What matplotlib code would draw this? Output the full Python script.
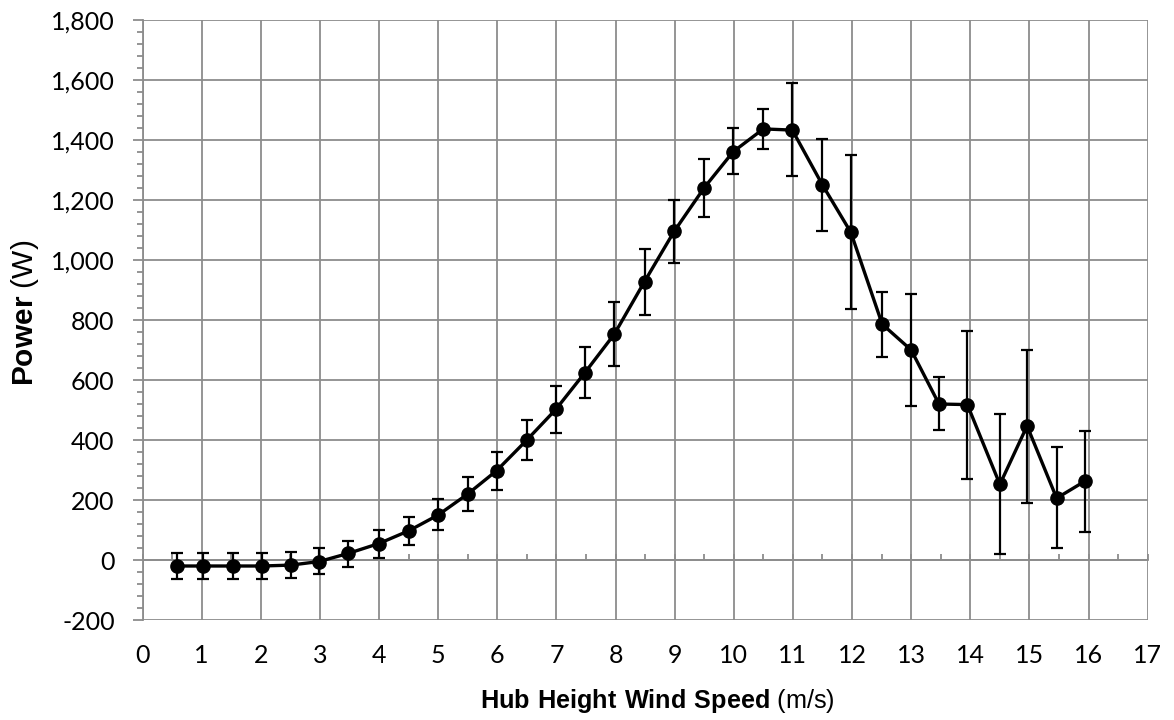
import matplotlib
matplotlib.use('Agg')
import matplotlib.pyplot as plt
from matplotlib.ticker import MultipleLocator, FuncFormatter

# data
wind_speed = [0.58, 1.02, 1.53, 2.02, 2.51, 2.99, 3.48, 4.0, 4.51, 5.0,
              5.5, 5.99, 6.5, 6.99, 7.48, 7.98, 8.49, 8.99, 9.5, 9.99,
              10.5, 10.99, 11.5, 11.98, 12.51, 13.0, 13.47, 13.95, 14.5, 14.96,
              15.46, 15.94]
power = [-20, -20, -20, -20, -17, -5, 22, 55, 98, 150,
         220, 298, 400, 502, 624, 753, 928, 1095, 1241, 1361,
         1437, 1433, 1250, 1092, 786, 700, 520, 518, 252, 447,
         206, 263]
power_upper = [22, 22, 22, 22, 26, 39, 64, 100, 144, 202,
               276, 361, 467, 580, 710, 861, 1038, 1200, 1337, 1439,
               1502, 1589, 1402, 1349, 892, 888, 610, 763, 487, 700,
               376, 430]
power_lower = [-63, -63, -63, -63, -61, -47, -22, 8, 50, 100,
               164, 233, 333, 424, 539, 647, 817, 990, 1142, 1286,
               1370, 1280, 1098, 837, 677, 514, 432, 271, 19, 191,
               39, 92]

GRID = '#8c8c8c'

plt.rcParams['mathtext.fontset'] = 'custom'
plt.rcParams['mathtext.bf'] = 'Liberation Sans:bold'
plt.rcParams['mathtext.rm'] = 'Liberation Sans'

fig = plt.figure(figsize=(11.74, 7.2), dpi=100)
ax = fig.add_axes([142.5 / 1174, 100 / 720, (1147.7 - 142.5) / 1174, 600 / 720])

yerr = [[p - lo for p, lo in zip(power, power_lower)],
        [hi - p for p, hi in zip(power, power_upper)]]
ax.errorbar(wind_speed, power, yerr=yerr, color='black', linewidth=2.4,
            marker='o', markersize=9.5, elinewidth=1.6, capsize=4.5,
            capthick=1.6, zorder=3)

ax.set_xlim(0, 17)
ax.set_ylim(-200, 1800)
ax.xaxis.set_major_locator(MultipleLocator(1))
ax.yaxis.set_major_locator(MultipleLocator(200))
ax.yaxis.set_minor_locator(MultipleLocator(40))
ax.yaxis.set_major_formatter(FuncFormatter(lambda v, pos: f'{v:,.0f}'))

ax.grid(True, which='major', color=GRID, linewidth=1.3, zorder=0)
ax.set_axisbelow(True)
for side in ('top', 'right', 'bottom'):
    ax.spines[side].set_visible(False)
ax.spines['left'].set_color(GRID)
ax.spines['left'].set_linewidth(1.3)

ax.tick_params(axis='x', which='both', length=0, pad=17, labelsize=18)
ax.tick_params(axis='y', which='major', length=7, width=1.3, color=GRID,
               pad=13, labelsize=18)
ax.tick_params(axis='y', which='minor', length=4.5, width=1.3, color=GRID)
for lab in ax.get_xticklabels() + ax.get_yticklabels():
    lab.set_family('Lato')

# horizontal axis line crossing at zero, with half-unit ticks
zero_axis = ax.secondary_xaxis(0.1)
zero_axis.spines['bottom'].set_color(GRID)
zero_axis.spines['bottom'].set_linewidth(1.3)
zero_axis.xaxis.set_major_locator(MultipleLocator(1))
zero_axis.xaxis.set_minor_locator(MultipleLocator(0.5))
zero_axis.tick_params(which='both', direction='in', length=4.5, width=1.3,
                      color=GRID, labelbottom=False)

fig.text(657 / 1174, 1 - 701 / 720,
         r'$\mathbf{Hub\ Height\ Wind\ Speed}$ (m/s)',
         family='Liberation Sans', fontsize=18.2, ha='center', va='center')
fig.text(25 / 1174, 1 - 313 / 720, r'$\mathbf{Power}$ (W)',
         family='Liberation Sans', fontsize=21.5, ha='center', va='center',
         rotation=90)

fig.savefig('out.png', dpi=100)
